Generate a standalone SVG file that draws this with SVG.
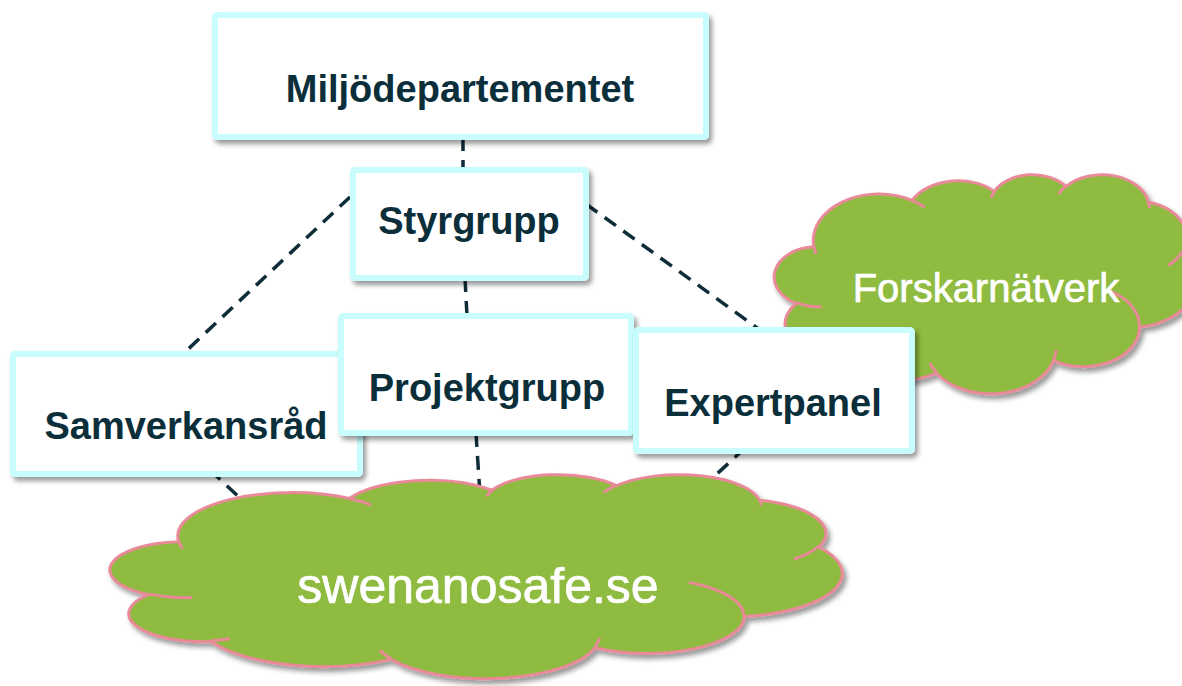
<svg xmlns="http://www.w3.org/2000/svg" width="1182" height="686" viewBox="0 0 1182 686">
<style>
.box{fill:#ffffff;stroke:#c9fcfc;stroke-width:6}
.lbl{font-family:"Liberation Sans",Arial,sans-serif;font-weight:bold;font-size:38px;fill:#0a2e3a;text-anchor:middle}
.clbl{font-family:"Liberation Sans",Arial,sans-serif;fill:#ffffff;stroke:#ffffff;stroke-width:0.7;text-anchor:middle}
.cloud{fill:#8fbb3f;stroke:#e88a98;stroke-width:3;vector-effect:non-scaling-stroke}
.inner{fill:none;stroke:#e88a98;stroke-width:3;vector-effect:non-scaling-stroke}
.con{stroke:#0f2d38;stroke-width:3.5;stroke-dasharray:14 9;fill:none}
</style>
<defs>
<filter id="sh" x="-10%" y="-10%" width="125%" height="130%">
<feDropShadow dx="3" dy="4" stdDeviation="2.5" flood-color="#000" flood-opacity="0.4"/>
</filter>
</defs>
<rect width="1182" height="686" fill="#ffffff"/>
<g id="connectors">
<line class="con" x1="463" y1="137" x2="463" y2="170"/>
<line class="con" x1="350" y1="197" x2="183" y2="354"/>
<line class="con" x1="586" y1="204" x2="760" y2="330"/>
<line class="con" x1="465" y1="278" x2="467" y2="316"/>
<line class="con" x1="210" y1="470" x2="255" y2="512"/>
<line class="con" x1="476" y1="433" x2="480" y2="495"/>
<line class="con" x1="745" y1="448" x2="705" y2="485"/>
</g>
<g id="forskarnatverk">
<g filter="url(#sh)">
<g transform="translate(776,174) scale(0.009722,0.005069)">
<path class="cloud" d="M3900,14370 A6753,9190 0 0 1 14005,5202 A5333,7267 0 0 1 22456,3431 A4365,5945 0 0 1 29834,2479 A4857,6595 0 0 1 38319,5575 A5333,7273 0 0 1 41819,15458 A6775,9220 0 0 1 37404,30200 A5785,7867 0 0 1 28555,36809 A6752,9215 0 0 1 16480,39261 A7720,10543 0 0 1 5802,35466 A4360,5918 0 0 1 2109,25547 A4345,5945 0 0 1 3900,14370 Z"/>
<path class="inner" d="M4693,26177 A4345,5945 0 0 1 2159,25379 M6928,34899 A4360,5918 0 0 1 5819,35281 M16478,39090 A6752,9215 0 0 1 15810,37350 M28827,34751 A6752,9215 0 0 1 28560,36659 M34129,22954 A5785,7867 0 0 1 37381,30090 M41798,15354 A5333,7273 0 0 1 40348,18032 M38324,5426 A4857,6595 0 0 1 38400,6690 M29078,3952 A4857,6595 0 0 1 29820,2339 M22141,4720 A4365,5945 0 0 1 22500,3331 M14000,5192 A6753,9190 0 0 1 15300,6541 M4127,15789 A6753,9190 0 0 1 3900,14370"/>
</g>
</g>
<text class="clbl" x="986" y="302" font-size="40">Forskarnätverk</text>
</g>
<g id="swenanosafe">
<g filter="url(#sh)">
<g transform="translate(113,474) scale(0.016875,0.004722)">
<path class="cloud" d="M3900,14370 A6753,9190 0 0 1 14005,5202 A5333,7267 0 0 1 22456,3431 A4365,5945 0 0 1 29834,2479 A4857,6595 0 0 1 38319,5575 A5333,7273 0 0 1 41819,15458 A6775,9220 0 0 1 37404,30200 A5785,7867 0 0 1 28555,36809 A6752,9215 0 0 1 16480,39261 A7720,10543 0 0 1 5802,35466 A4360,5918 0 0 1 2109,25547 A4345,5945 0 0 1 3900,14370 Z"/>
<path class="inner" d="M4693,26177 A4345,5945 0 0 1 2159,25379 M6928,34899 A4360,5918 0 0 1 5819,35281 M16478,39090 A6752,9215 0 0 1 15810,37350 M28827,34751 A6752,9215 0 0 1 28560,36659 M34129,22954 A5785,7867 0 0 1 37381,30090 M41798,15354 A5333,7273 0 0 1 40348,18032 M38324,5426 A4857,6595 0 0 1 38400,6690 M29078,3952 A4857,6595 0 0 1 29820,2339 M22141,4720 A4365,5945 0 0 1 22500,3331 M14000,5192 A6753,9190 0 0 1 15300,6541 M4127,15789 A6753,9190 0 0 1 3900,14370"/>
</g>
</g>
<text class="clbl" x="478" y="603" font-size="50">swenanosafe.se</text>
</g>
<g id="miljodepartementet">
<rect class="box" x="215" y="15" width="491" height="122" rx="2" filter="url(#sh)"/>
<text class="lbl" x="460" y="102">Miljödepartementet</text>
</g>
<g id="styrgrupp">
<rect class="box" x="353" y="170" width="233" height="108" rx="2" filter="url(#sh)"/>
<text class="lbl" x="469" y="234">Styrgrupp</text>
</g>
<g id="samverkansrad">
<rect class="box" x="13" y="354" width="347" height="120" rx="2" filter="url(#sh)"/>
<text class="lbl" x="186" y="439">Samverkansråd</text>
</g>
<g id="projektgrupp">
<rect class="box" x="341" y="316" width="290" height="117" rx="2" filter="url(#sh)"/>
<text class="lbl" x="487" y="401">Projektgrupp</text>
</g>
<g id="expertpanel">
<rect class="box" x="636" y="330" width="276" height="121" rx="2" filter="url(#sh)"/>
<text class="lbl" x="773" y="416">Expertpanel</text>
</g>
</svg>
